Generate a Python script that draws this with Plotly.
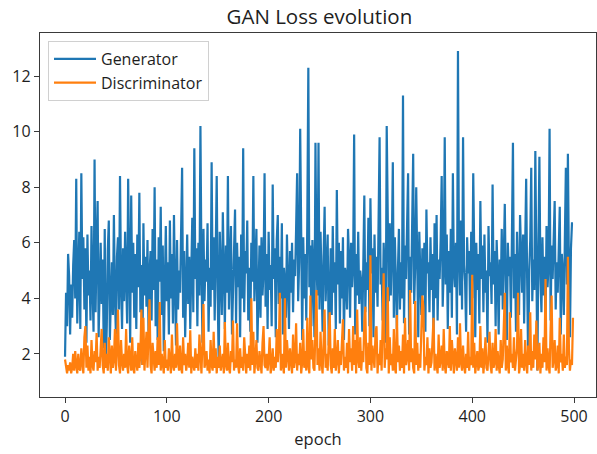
import plotly.graph_objects as go

generator = [
    1.9, 4.2, 3.0, 5.6, 4.8, 2.7, 4.5, 3.3, 5.2, 6.1,
    4.0, 8.3, 3.1, 5.5, 6.4, 2.9, 8.5, 4.7, 6.2, 3.6,
    5.8, 2.4, 6.3, 4.1, 5.0, 3.2, 6.6, 4.4, 2.8, 9.0,
    3.5, 5.9, 7.5, 2.6, 4.9, 6.0, 3.8, 5.4, 2.2, 6.5,
    1.5, 3.0, 5.7, 6.8, 2.5, 4.6, 5.3, 3.4, 7.0, 4.0,
    2.7, 5.5, 6.2, 3.6, 8.4, 4.5, 2.9, 5.8, 3.9, 6.4,
    4.8, 3.1, 8.3, 5.0, 2.4, 7.7, 4.2, 6.0, 3.3, 5.6,
    2.9, 6.3, 4.4, 7.8, 3.5, 5.2, 1.6, 6.7, 4.1, 5.5,
    3.7, 6.1, 2.8, 4.9, 5.7, 3.2, 6.5, 4.3, 8.0, 3.0,
    5.4, 2.5, 6.2, 4.6, 7.3, 3.4, 5.9, 2.1, 4.8, 6.6,
    3.9, 5.3, 2.7, 6.8, 4.0, 5.6, 3.1, 7.0, 4.5, 2.3,
    6.1, 3.6, 5.0, 4.2, 6.4, 8.7, 3.3, 5.7, 2.6, 4.9,
    6.3, 3.8, 5.5, 2.9, 4.4, 6.9, 3.5, 9.4, 4.7, 5.8,
    3.0, 6.0, 4.1, 10.2, 5.2, 2.4, 6.5, 3.9, 5.4, 4.6,
    6.7, 2.8, 5.1, 3.7, 8.9, 4.3, 6.2, 3.2, 5.6, 8.4,
    4.0, 1.6, 6.4, 5.0, 3.4, 7.1, 4.8, 2.9, 5.9, 4.2,
    8.4, 3.6, 5.3, 6.6, 2.7, 4.5, 5.8, 7.2, 3.1, 6.0,
    4.4, 5.5, 2.6, 6.3, 4.0, 9.4, 3.5, 5.7, 4.9, 6.8,
    3.2, 5.1, 2.8, 6.0, 4.6, 8.4, 3.9, 5.4, 6.5, 2.4,
    4.8, 5.9, 3.3, 6.2, 4.1, 5.0, 8.5, 3.7, 5.6, 2.9,
    6.4, 4.3, 5.2, 3.0, 8.1, 4.7, 5.8, 2.6, 6.1, 7.0,
    3.8, 5.5, 4.0, 6.7, 2.7, 5.1, 4.5, 3.3, 6.3, 5.0,
    2.9, 5.7, 4.2, 6.0, 3.5, 5.4, 4.8, 6.5, 8.5, 3.9,
    5.3, 10.1, 4.6, 2.5, 6.2, 4.0, 5.6, 3.2, 6.8, 12.3,
    4.4, 5.9, 3.0, 6.1, 4.9, 2.6, 9.6, 5.2, 4.1, 9.6,
    3.6, 6.4, 4.7, 2.8, 5.5, 7.3, 3.9, 5.0, 6.3, 2.3,
    4.6, 5.8, 3.4, 6.6, 4.2, 5.3, 2.9, 7.9, 4.5, 6.0,
    3.1, 5.7, 4.0, 6.2, 2.5, 5.1, 4.8, 3.6, 6.5, 5.4,
    3.3, 6.0, 4.4, 5.2, 9.9, 2.7, 5.6, 4.1, 6.4, 3.8,
    5.0, 4.6, 2.8, 6.1, 7.7, 3.5, 5.3, 4.3, 6.9, 3.0,
    7.6, 4.9, 5.8, 2.6, 6.3, 4.2, 5.5, 3.7, 6.6, 9.8,
    4.5, 5.1, 3.2, 6.0, 4.8, 2.4, 10.2, 5.4, 3.9, 6.7,
    4.1, 5.7, 8.9, 3.3, 6.2, 4.6, 2.9, 5.0, 6.5, 3.6,
    5.3, 4.0, 11.3, 3.1, 5.9, 4.7, 6.3, 8.5, 2.7, 5.5,
    4.2, 6.1, 9.2, 3.8, 5.2, 8.0, 4.4, 2.6, 6.4, 5.0,
    3.4, 5.8, 4.1, 6.0, 2.8, 7.2, 4.9, 5.3, 3.5, 6.2,
    4.3, 5.6, 2.5, 6.7, 4.0, 7.0, 3.2, 5.4, 4.7, 6.1,
    8.4, 3.7, 5.1, 9.8, 4.5, 6.3, 2.9, 5.7, 4.2, 6.5,
    3.3, 8.5, 5.0, 4.4, 6.0, 2.7, 12.9, 5.5, 4.1, 6.8,
    3.6, 9.8, 5.2, 4.6, 2.8, 6.2, 4.9, 5.7, 3.4, 6.4,
    4.0, 8.5, 5.1, 2.6, 6.0, 4.3, 5.6, 3.1, 7.5, 4.7,
    5.9, 3.5, 6.3, 4.2, 5.0, 2.4, 6.6, 4.8, 5.3, 3.8,
    8.1, 4.5, 5.7, 3.0, 6.1, 4.9, 2.7, 5.4, 4.1, 6.5,
    3.6, 5.2, 7.4, 4.4, 2.5, 6.0, 4.8, 5.5, 3.3, 6.2,
    9.6, 4.0, 5.6, 2.8, 6.4, 4.6, 3.4, 7.0, 5.1, 4.2,
    6.3, 3.1, 5.8, 8.3, 4.5, 1.6, 5.0, 6.1, 8.7, 3.9,
    5.4, 4.3, 9.3, 6.0, 1.4, 5.7, 9.1, 4.8, 3.5, 6.2,
    4.1, 5.5, 2.9, 6.6, 4.4, 5.2, 10.1, 3.2, 5.9, 4.7,
    6.0, 7.5, 3.6, 5.3, 4.2, 6.4, 7.3, 2.7, 5.6, 4.9,
    3.4, 6.1, 8.7, 4.5, 9.2, 5.0, 2.6, 5.8, 6.7, 6.7,
]

discriminator = [
    1.8, 1.5, 1.3, 1.6, 1.4, 1.7, 1.3, 1.5, 2.0, 1.4,
    2.1, 1.6, 1.3, 2.0, 1.5, 1.4, 2.2, 1.7, 1.3, 2.6,
    3.0, 1.5, 2.3, 1.4, 1.9, 1.3, 2.5, 1.6, 1.4, 2.1,
    1.7, 2.75, 1.4, 1.9, 1.5, 2.2, 2.9, 1.6, 1.3, 2.4,
    1.5, 2.0, 1.4, 2.6, 1.7, 1.3, 2.3, 1.5, 1.8, 2.9,
    1.4, 2.2, 3.6, 1.6, 1.3, 2.5, 1.7, 1.4, 2.0, 1.5,
    2.9, 1.6, 1.3, 2.3, 1.8, 1.4, 2.6, 1.5, 1.3, 2.1,
    1.7, 1.4, 2.4, 1.5, 2.0, 3.6, 1.6, 3.3, 1.4, 2.2,
    2.8, 1.5, 3.2, 3.97, 1.6, 1.3, 2.4, 1.7, 1.4, 2.1,
    1.5, 2.6, 1.6, 3.87, 1.4, 2.0, 1.7, 1.3, 2.5, 1.5,
    1.8, 1.4, 2.2, 1.5, 1.3, 2.7, 1.6, 1.4, 2.0, 1.5,
    3.1, 1.7, 1.4, 2.3, 1.5, 1.3, 2.6, 1.6, 2.0, 1.4,
    1.7, 2.4, 1.5, 2.85, 1.3, 1.9, 1.6, 1.4, 2.2, 1.5,
    2.0, 1.4, 2.7, 1.6, 1.3, 2.4, 3.8, 1.5, 1.7, 2.1,
    1.4, 1.8, 1.3, 2.5, 1.6, 1.4, 2.8, 1.5, 2.2, 1.3,
    1.9, 1.5, 2.3, 1.4, 1.7, 2.0, 1.3, 3.15, 1.6, 1.4,
    2.4, 1.5, 1.3, 2.1, 1.7, 3.2, 1.4, 1.8, 1.5, 3.1,
    1.6, 1.3, 2.2, 1.5, 1.9, 1.4, 2.6, 1.7, 1.3, 2.0,
    1.5, 2.3, 1.4, 4.0, 1.6, 2.8, 1.3, 1.8, 2.5, 1.5,
    1.4, 2.1, 1.7, 1.3, 2.4, 3.0, 1.6, 1.5, 2.0, 1.4,
    1.8, 2.6, 1.3, 1.6, 2.2, 1.4, 1.9, 1.5, 2.9, 1.7,
    2.3, 4.2, 1.4, 2.0, 1.6, 1.3, 4.0, 1.5, 2.5, 1.7,
    1.4, 2.2, 1.6, 1.3, 2.7, 1.5, 1.8, 3.1, 1.4, 2.0,
    1.6, 2.4, 1.3, 1.7, 2.9, 1.5, 2.1, 1.4, 3.3, 1.6,
    1.3, 4.1, 1.8, 2.5, 1.5, 1.4, 3.0, 4.3, 1.6, 2.2,
    1.4, 2.8, 1.7, 1.3, 2.4, 3.6, 1.5, 2.0, 1.4, 2.6,
    3.5, 1.6, 1.3, 2.2, 1.5, 2.9, 1.4, 1.8, 2.5, 1.3,
    2.1, 1.6, 2.7, 3.25, 1.4, 1.9, 1.5, 2.4, 1.3, 2.9,
    1.7, 2.2, 1.4, 3.0, 1.6, 2.5, 1.3, 3.6, 1.8, 1.5,
    2.6, 1.4, 2.1, 1.7, 3.2, 3.7, 1.5, 1.3, 2.4, 1.6,
    5.55, 1.4, 2.3, 1.7, 1.5, 2.8, 3.0, 1.3, 2.0, 1.6,
    2.5, 1.4, 3.4, 4.9, 1.5, 2.2, 1.8, 4.4, 1.3, 2.6,
    1.6, 2.0, 1.4, 2.9, 1.5, 1.3, 3.4, 1.7, 2.3, 1.4,
    2.1, 1.5, 2.7, 1.3, 3.3, 1.6, 1.9, 2.5, 1.4, 4.3,
    1.7, 2.2, 1.5, 1.3, 3.9, 1.6, 2.4, 1.4, 2.0, 1.5,
    2.8, 4.1, 3.7, 1.4, 1.9, 1.6, 2.6, 1.3, 2.2, 1.5,
    1.7, 2.4, 3.3, 1.4, 2.0, 1.6, 1.3, 2.7, 1.5, 1.8,
    2.3, 1.4, 2.9, 1.6, 1.3, 2.1, 1.7, 1.5, 3.0, 1.4,
    2.5, 1.6, 1.3, 2.2, 1.8, 1.4, 2.6, 1.5, 3.1, 1.7,
    1.4, 2.3, 1.6, 1.3, 2.0, 1.5, 2.8, 1.4, 1.9, 1.6,
    4.85, 1.5, 2.4, 1.3, 1.7, 2.1, 1.4, 1.6, 3.0, 1.5,
    2.2, 1.3, 1.8, 2.6, 1.5, 1.4, 2.0, 2.8, 1.6, 1.3,
    2.4, 1.5, 1.7, 2.9, 1.4, 2.1, 1.6, 1.3, 2.5, 1.5,
    1.8, 2.7, 4.2, 1.4, 2.3, 1.6, 1.3, 3.5, 1.7, 2.0,
    1.5, 2.6, 1.4, 1.8, 2.2, 4.2, 1.3, 1.6, 2.9, 1.5,
    2.0, 1.4, 2.5, 1.7, 1.3, 2.3, 1.6, 3.5, 1.4, 2.1,
    1.5, 2.7, 1.8, 3.2, 1.4, 1.6, 2.4, 1.3, 2.0, 1.5,
    2.6, 1.7, 4.7, 1.4, 2.2, 1.6, 1.3, 2.9, 4.1, 1.5,
    1.8, 2.5, 1.4, 1.6, 2.3, 1.3, 3.3, 1.7, 2.0, 1.4,
    2.7, 1.5, 1.9, 1.6, 5.5, 2.2, 1.4, 1.8, 1.6, 3.3,
]

epochs = list(range(len(generator)))
x_ticks = [0, 100, 200, 300, 400, 500]
y_ticks = [2, 4, 6, 8, 10, 12]

FONT = "Open Sans"
TXT = "#1e1e1e"

fig = go.Figure()
fig.add_trace(go.Scatter(x=epochs, y=generator, mode="lines", name="Generator",
                         legendgroup="g", line=dict(color="#1f77b4", width=2.2)))
fig.add_trace(go.Scatter(x=epochs, y=discriminator, mode="lines", name="Discriminator",
                         legendgroup="d", line=dict(color="#ff7f0e", width=2.2)))

axis_common = dict(showgrid=False, zeroline=False, showline=True, mirror=True,
                   linecolor="#3a3a3a", linewidth=1.4, ticks="outside", ticklen=5,
                   tickwidth=1.3, tickcolor="#3a3a3a",
                   tickfont=dict(family=FONT, size=16, color=TXT))

fig.update_layout(
    width=597, height=454,
    margin=dict(l=40, r=1, t=33, b=57),
    paper_bgcolor="white", plot_bgcolor="white",
    title=dict(text="GAN Loss evolution", x=0.535, xanchor="center", y=0.963, yanchor="middle",
               font=dict(family=FONT, size=20.5, color=TXT)),
    xaxis=dict(range=[-24.6, 521.6], tickvals=x_ticks,
               title=dict(text="epoch", standoff=7, font=dict(family=FONT, size=16.5, color=TXT)),
               **axis_common),
    yaxis=dict(range=[0.45, 13.55], tickvals=y_ticks, **axis_common),
    legend=dict(x=0.0144, y=0.978, xanchor="left", yanchor="top",
                bgcolor="rgba(255,255,255,0.8)", bordercolor="#d0d0d0", borderwidth=1,
                traceorder="grouped", tracegroupgap=0, itemwidth=42,
                font=dict(family=FONT, size=16, color=TXT)),
    showlegend=True,
)

fig.write_html("out.html")
